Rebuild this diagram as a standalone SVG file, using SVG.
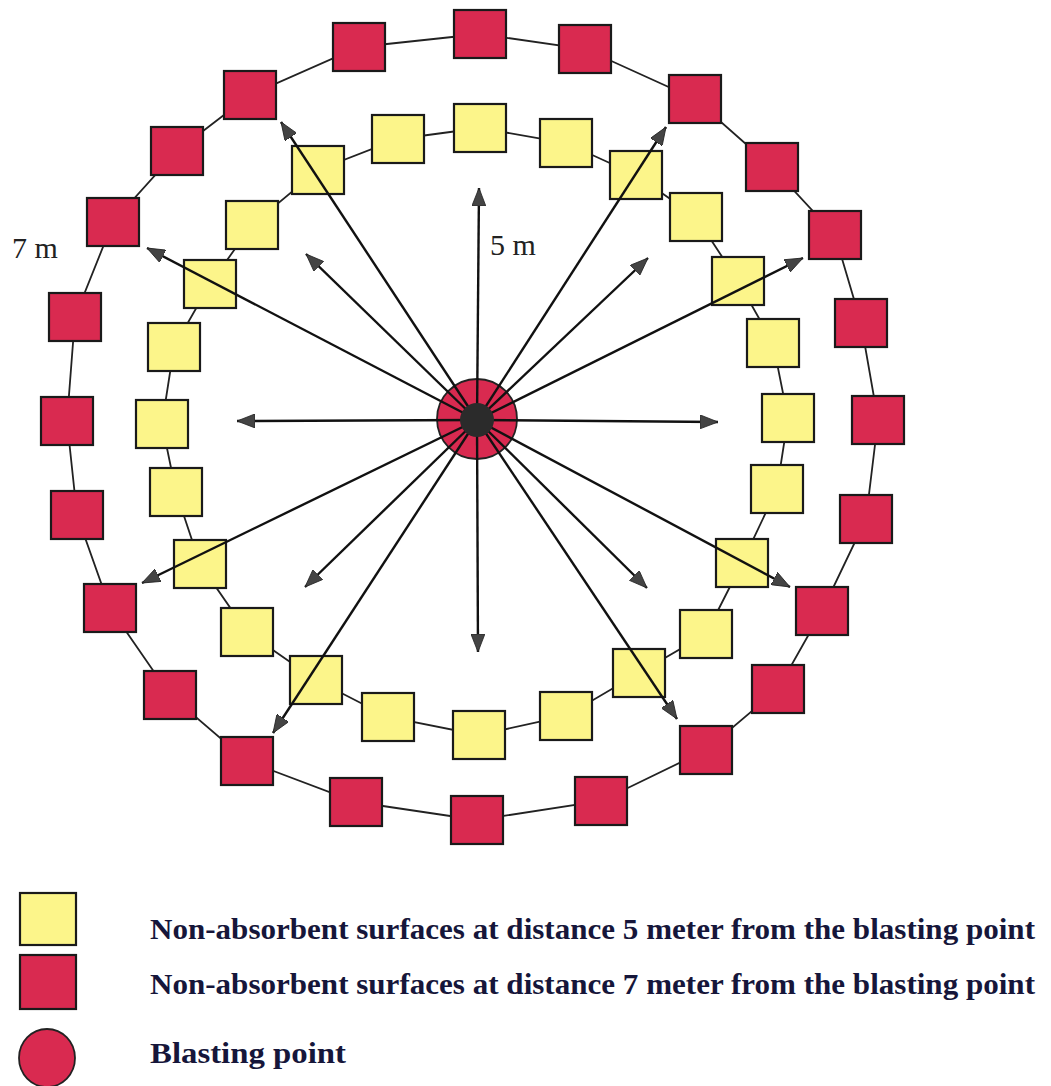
<svg xmlns="http://www.w3.org/2000/svg" width="1051" height="1086" viewBox="0 0 1051 1086">
<defs>
<style>
.ring{fill:none;stroke:#222;stroke-width:1.8}
.y{fill:#fcf58a;stroke:#1a1a1a;stroke-width:2.2}
.r{fill:#d92a50;stroke:#1a1a1a;stroke-width:2.2}
.arr{stroke:#111;stroke-width:2.4;fill:none;marker-end:url(#ah)}
.lbl{font-family:"Liberation Serif","Times New Roman",serif;font-size:30px;fill:#222}
.leg{font-family:"Liberation Serif","Times New Roman",serif;font-size:30px;font-weight:bold;fill:#16163a}
</style>
<marker id="ah" viewBox="0 0 18 14" refX="18" refY="7" markerWidth="18" markerHeight="14" markerUnits="userSpaceOnUse" orient="auto">
<path d="M0,0 L18,7 L0,14 Z" fill="#444" stroke="#222" stroke-width="0.8"/>
</marker>
</defs>
<rect width="1051" height="1086" fill="#fff"/>
<g id="rings">
<polygon class="ring" points="480,34 585,49 695,99 772,167 835,235 861,323 878,420 866,519 822,611 778,689 706,750 601,801 477,820 356,802 247,761 170,695 110,608 77,515 67,421 75,317 113,222 177,151 250,95 359,47"/>
<polygon class="ring" points="480,128 566,143 636,175 696,217 738,281 773,343 788,418 777,489 742,563 706,634 639,673 566,716 479,735 388,717 316,680 247,632 200,564 176,492 162,424 174,347 210,284 252,225 318,170 398,139"/>
</g>
<g id="outer-squares">
<g id="r1"><rect class="r" x="454" y="10" width="52" height="48"/></g>
<g id="r2"><rect class="r" x="559" y="25" width="52" height="48"/></g>
<g id="r3"><rect class="r" x="669" y="75" width="52" height="48"/></g>
<g id="r4"><rect class="r" x="746" y="143" width="52" height="48"/></g>
<g id="r5"><rect class="r" x="809" y="211" width="52" height="48"/></g>
<g id="r6"><rect class="r" x="835" y="299" width="52" height="48"/></g>
<g id="r7"><rect class="r" x="852" y="396" width="52" height="48"/></g>
<g id="r8"><rect class="r" x="840" y="495" width="52" height="48"/></g>
<g id="r9"><rect class="r" x="796" y="587" width="52" height="48"/></g>
<g id="r10"><rect class="r" x="752" y="665" width="52" height="48"/></g>
<g id="r11"><rect class="r" x="680" y="726" width="52" height="48"/></g>
<g id="r12"><rect class="r" x="575" y="777" width="52" height="48"/></g>
<g id="r13"><rect class="r" x="451" y="796" width="52" height="48"/></g>
<g id="r14"><rect class="r" x="330" y="778" width="52" height="48"/></g>
<g id="r15"><rect class="r" x="221" y="737" width="52" height="48"/></g>
<g id="r16"><rect class="r" x="144" y="671" width="52" height="48"/></g>
<g id="r17"><rect class="r" x="84" y="584" width="52" height="48"/></g>
<g id="r18"><rect class="r" x="51" y="491" width="52" height="48"/></g>
<g id="r19"><rect class="r" x="41" y="397" width="52" height="48"/></g>
<g id="r20"><rect class="r" x="49" y="293" width="52" height="48"/></g>
<g id="r21"><rect class="r" x="87" y="198" width="52" height="48"/></g>
<g id="r22"><rect class="r" x="151" y="127" width="52" height="48"/></g>
<g id="r23"><rect class="r" x="224" y="71" width="52" height="48"/></g>
<g id="r24"><rect class="r" x="333" y="23" width="52" height="48"/></g>
</g>
<g id="inner-squares">
<g id="y1"><rect class="y" x="454" y="104" width="52" height="48"/></g>
<g id="y2"><rect class="y" x="540" y="119" width="52" height="48"/></g>
<g id="y3"><rect class="y" x="610" y="151" width="52" height="48"/></g>
<g id="y4"><rect class="y" x="670" y="193" width="52" height="48"/></g>
<g id="y5"><rect class="y" x="712" y="257" width="52" height="48"/></g>
<g id="y6"><rect class="y" x="747" y="319" width="52" height="48"/></g>
<g id="y7"><rect class="y" x="762" y="394" width="52" height="48"/></g>
<g id="y8"><rect class="y" x="751" y="465" width="52" height="48"/></g>
<g id="y9"><rect class="y" x="716" y="539" width="52" height="48"/></g>
<g id="y10"><rect class="y" x="680" y="610" width="52" height="48"/></g>
<g id="y11"><rect class="y" x="613" y="649" width="52" height="48"/></g>
<g id="y12"><rect class="y" x="540" y="692" width="52" height="48"/></g>
<g id="y13"><rect class="y" x="453" y="711" width="52" height="48"/></g>
<g id="y14"><rect class="y" x="362" y="693" width="52" height="48"/></g>
<g id="y15"><rect class="y" x="290" y="656" width="52" height="48"/></g>
<g id="y16"><rect class="y" x="221" y="608" width="52" height="48"/></g>
<g id="y17"><rect class="y" x="174" y="540" width="52" height="48"/></g>
<g id="y18"><rect class="y" x="150" y="468" width="52" height="48"/></g>
<g id="y19"><rect class="y" x="136" y="400" width="52" height="48"/></g>
<g id="y20"><rect class="y" x="148" y="323" width="52" height="48"/></g>
<g id="y21"><rect class="y" x="184" y="260" width="52" height="48"/></g>
<g id="y22"><rect class="y" x="226" y="201" width="52" height="48"/></g>
<g id="y23"><rect class="y" x="292" y="146" width="52" height="48"/></g>
<g id="y24"><rect class="y" x="372" y="115" width="52" height="48"/></g>
</g>
<g id="blasting-point">
<circle cx="477" cy="419" r="40" fill="#d92a50" stroke="#222" stroke-width="1.8"/>
</g>
<g id="connectors">
<line class="arr" x1="477" y1="420" x2="479" y2="188"/>
<line class="arr" x1="477" y1="420" x2="478" y2="652"/>
<line class="arr" x1="477" y1="420" x2="237" y2="421"/>
<line class="arr" x1="477" y1="420" x2="718" y2="422"/>
<line class="arr" x1="477" y1="420" x2="281" y2="122"/>
<line class="arr" x1="477" y1="420" x2="147" y2="248"/>
<line class="arr" x1="477" y1="420" x2="306" y2="254"/>
<line class="arr" x1="477" y1="420" x2="666" y2="127"/>
<line class="arr" x1="477" y1="420" x2="803" y2="258"/>
<line class="arr" x1="477" y1="420" x2="648" y2="258"/>
<line class="arr" x1="477" y1="420" x2="142" y2="583"/>
<line class="arr" x1="477" y1="420" x2="305" y2="587"/>
<line class="arr" x1="477" y1="420" x2="273" y2="733"/>
<line class="arr" x1="477" y1="420" x2="790" y2="587"/>
<line class="arr" x1="477" y1="420" x2="647" y2="588"/>
<line class="arr" x1="477" y1="420" x2="677" y2="719"/>
</g>
<g id="blasting-core">
<circle cx="477" cy="420" r="17" fill="#2b2b2b"/>
</g>
<g id="labels">
<text class="lbl" x="12" y="258">7 m</text>
<text class="lbl" x="490" y="255">5 m</text>
</g>
<g id="legend">
<g id="legend-yellow">
<rect class="y" x="20" y="893" width="56" height="52"/>
<text class="leg" x="150" y="939" textLength="885" lengthAdjust="spacingAndGlyphs">Non-absorbent surfaces at distance 5 meter from the blasting point</text>
</g>
<g id="legend-red">
<rect class="r" x="20" y="955" width="56" height="54"/>
<text class="leg" x="150" y="994" textLength="885" lengthAdjust="spacingAndGlyphs">Non-absorbent surfaces at distance 7 meter from the blasting point</text>
</g>
<g id="legend-circle">
<ellipse cx="47" cy="1058" rx="28" ry="29" fill="#d92a50" stroke="#222" stroke-width="1.8"/>
<text class="leg" x="150" y="1063" textLength="196" lengthAdjust="spacingAndGlyphs">Blasting point</text>
</g>
</g>
</svg>
